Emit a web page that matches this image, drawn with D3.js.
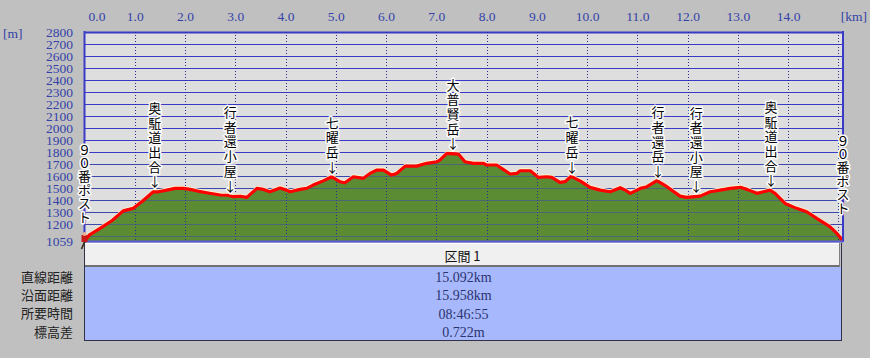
<!DOCTYPE html>
<html><head><meta charset="utf-8">
<script src="https://cdn.jsdelivr.net/npm/d3@7/dist/d3.min.js"></script>
<style>
html,body{margin:0;padding:0;background:#c0c0c0;}
svg{display:block;}
</style></head>
<body>
<svg id="chart" width="870" height="358"></svg>
<script>
// ---------- data ----------
const distanceKm = [0.00,0.10,0.31,0.55,0.77,0.97,1.15,1.37,1.47,1.64,1.80,1.97,2.10,2.25,2.43,2.70,2.85,2.96,3.10,3.23,3.43,3.56,3.69,3.89,4.02,4.09,4.29,4.42,4.55,4.75,4.92,5.08,5.18,5.35,5.55,5.68,5.82,5.95,6.11,6.21,6.38,6.61,6.81,7.01,7.07,7.21,7.44,7.57,7.74,7.94,8.00,8.20,8.30,8.47,8.60,8.67,8.87,9.03,9.20,9.30,9.46,9.56,9.68,9.86,10.06,10.26,10.46,10.66,10.76,10.86,11.06,11.19,11.39,11.59,11.85,11.98,12.25,12.45,12.65,12.85,13.05,13.18,13.38,13.51,13.64,13.74,13.94,14.17,14.37,14.57,14.83,14.97,15.092];
const elevationM = [1059,1110,1164,1230,1310,1331,1390,1469,1469,1483,1497,1497,1489,1475,1461,1442,1440,1428,1432,1422,1497,1489,1469,1500,1483,1469,1489,1497,1525,1560,1594,1553,1544,1594,1581,1622,1650,1650,1608,1622,1683,1683,1706,1719,1733,1789,1783,1719,1706,1706,1692,1692,1664,1617,1622,1644,1644,1589,1594,1589,1547,1553,1597,1560,1506,1483,1469,1503,1483,1456,1497,1511,1561,1511,1433,1422,1433,1469,1483,1497,1506,1489,1456,1469,1483,1456,1372,1331,1303,1247,1178,1122,1060];

const kmTicks = [0,1,2,3,4,5,6,7,8,9,10,11,12,13,14];
const kmGrid = [1,2,3,4,5,6,7,8,9,10,11,12,13,14,15];
const elevTicks = [1059,1200,1300,1400,1500,1600,1700,1800,1900,2000,2100,2200,2300,2400,2500,2600,2700,2800];
const elevGrid = [1100,1200,1300,1400,1500,1600,1700,1800,1900,2000,2100,2200,2300,2400,2500,2600,2700,2800];
const unitX = "[km]", unitY = "[m]";

const placeNames = ["９０番ポスト","奥駈道出合","行者還小屋","七曜岳","大普賢岳","七曜岳","行者還岳","行者還小屋","奥駈道出合","９０番ポスト"];
const placeKm = [0.0,1.40,2.90,4.93,7.33,9.70,11.41,12.17,13.66,15.092];
const placeArrow = [false,true,true,true,true,true,true,true,true,false];

const sectionTitle = "区間 1";
const summaryLabels = ["直線距離","沿面距離","所要時間","標高差"];
const summaryValues = ["15.092km","15.958km","08:46:55","0.722m"];

// ---------- layout ----------
const svg = d3.select("#chart");
const L = 84.5, R = 843, T = 32, B = 241;
const x = d3.scaleLinear().domain([0, 15.092]).range([L, R]);
const y = d3.scaleLinear().domain([1059, 2800]).range([B, T]);
const blue = "#3a3ac8", textBlue = "#3442a8";
const numFont = "'Liberation Serif', serif";
const jpFont = "'Noto Sans CJK JP', sans-serif";

// plot background
svg.append("rect").attr("x", L).attr("y", T).attr("width", R - L).attr("height", B - T).attr("fill", "#dedede");

// horizontal grid
svg.append("g").selectAll("line").data(elevGrid).join("line")
  .attr("x1", L).attr("x2", R)
  .attr("y1", d => Math.round(y(d)) + 0.5).attr("y2", d => Math.round(y(d)) + 0.5)
  .attr("stroke", blue).attr("stroke-width", d => d === 2800 ? 2 : 1);

// area
const pts = distanceKm.map((d, i) => [d, elevationM[i]]);
svg.append("path").datum(pts)
  .attr("d", d3.area().x(d => x(d[0])).y0(y(1059)).y1(d => y(d[1])))
  .attr("fill", "#5b8c34");

// vertical dotted grid
svg.append("g").selectAll("line").data(kmGrid).join("line")
  .attr("x1", d => Math.round(x(d)) + 0.5).attr("x2", d => Math.round(x(d)) + 0.5)
  .attr("y1", T).attr("y2", B)
  .attr("stroke", "#2a2a90").attr("stroke-width", 1).attr("stroke-dasharray", "1,2");

// grid lines seen through the green
svg.append("g").selectAll("line").data(elevGrid.filter(v => v < 1800)).join("line")
  .attr("x1", L).attr("x2", R)
  .attr("y1", d => Math.round(y(d)) + 0.5).attr("y2", d => Math.round(y(d)) + 0.5)
  .attr("stroke", "#4250a0").attr("stroke-width", 1).attr("opacity", 0.6);

// highlight + red line
svg.append("path").datum(pts)
  .attr("d", d3.line().x(d => x(d[0])).y(d => y(d[1]) - 1.9))
  .attr("fill", "none").attr("stroke", "#fff6c8").attr("stroke-width", 1.2);
svg.append("path").datum(pts)
  .attr("d", d3.line().x(d => x(d[0])).y(d => y(d[1])))
  .attr("fill", "none").attr("stroke", "#ff0000").attr("stroke-width", 3.2)
  .attr("stroke-linejoin", "round");

// borders
svg.append("line").attr("x1", L).attr("x2", L).attr("y1", T - 1).attr("y2", B + 1).attr("stroke", blue).attr("stroke-width", 2);
svg.append("line").attr("x1", R).attr("x2", R).attr("y1", T - 1).attr("y2", B + 1).attr("stroke", blue).attr("stroke-width", 2);
svg.append("line").attr("x1", L).attr("x2", R).attr("y1", B + 0.5).attr("y2", B + 0.5).attr("stroke", "#5a5ad8").attr("stroke-width", 2);

// top axis
const gx = svg.append("g").attr("transform", `translate(0,${T - 9})`)
  .call(d3.axisTop(x).tickValues(kmTicks).tickSize(0).tickFormat(d3.format(".1f")));
gx.select(".domain").remove();
gx.selectAll("text").attr("fill", textBlue).attr("font-family", numFont).attr("font-size", 13.5)
  .attr("dy", "0.1em")
  .attr("dx", d => d === 0 ? 12 : 0);
svg.append("text").attr("x", 867).attr("y", 21).attr("text-anchor", "end")
  .attr("font-family", numFont).attr("font-size", 13.5).attr("fill", textBlue).text(unitX);

// left axis
const gy = svg.append("g").attr("transform", `translate(76,0)`)
  .call(d3.axisLeft(y).tickValues(elevTicks).tickSize(0).tickFormat(d3.format("d")));
gy.select(".domain").remove();
gy.selectAll("text").attr("fill", textBlue).attr("font-family", numFont).attr("font-size", 13.5)
  .attr("textLength", 27).attr("lengthAdjust", "spacingAndGlyphs");
svg.append("text").attr("x", 3).attr("y", 38)
  .attr("font-family", numFont).attr("font-size", 13.5).attr("fill", textBlue).text(unitY);

// place labels: one character per line, stacked upward from the point
const elevAt = km => {
  const i = d3.bisector(d => d).left(distanceKm, km);
  if (i <= 0) return elevationM[0];
  if (i >= distanceKm.length) return elevationM[elevationM.length - 1];
  const t = (km - distanceKm[i - 1]) / (distanceKm[i] - distanceKm[i - 1]);
  return elevationM[i - 1] + t * (elevationM[i] - elevationM[i - 1]);
};
const endLift = [24, 0, 0, 0, 0, 0, 0, 0, 0, 33];
placeNames.forEach((name, i) => {
  const chars = Array.from(name);
  if (placeArrow[i]) chars.push("↓");
  const px = x(placeKm[i]);
  const bottomY = y(elevAt(placeKm[i])) - (placeArrow[i] ? 10 : endLift[i]);
  const step = placeArrow[i] ? 14.7 : 13.4;
  const g = svg.append("g");
  chars.forEach((c, k) => {
    const cy = bottomY - (chars.length - 1 - k) * step;
    g.append("text").attr("x", px).attr("y", cy).attr("dy", "0.36em")
      .attr("text-anchor", "middle").attr("font-family", jpFont).attr("font-size", 13)
      .attr("fill", "#000").attr("stroke", "#fff").attr("stroke-width", 3)
      .attr("paint-order", "stroke").attr("stroke-linejoin", "round").text(c);
  });
});

// hiker icon at start
const hx = x(0), hy = y(1059);
const icon = svg.append("g").attr("transform", `translate(${hx},${hy})`);
icon.append("path").attr("d", "M-3,8 L0,1 L3,8").attr("stroke", "#3a2a1a").attr("stroke-width", 1.6).attr("fill", "none");
icon.append("rect").attr("x", -3).attr("y", -6).attr("width", 6).attr("height", 7).attr("fill", "#c81818");
icon.append("circle").attr("cx", 0).attr("cy", -7).attr("r", 2).attr("fill", "#e8b090");

// section header box
const boxL = 84, boxR = 841;
svg.append("rect").attr("x", boxL).attr("y", 243).attr("width", boxR - boxL - 1).attr("height", 24).attr("fill", "#f0f0f0");
svg.append("line").attr("x1", boxL).attr("x2", boxR - 1).attr("y1", 243.5).attr("y2", 243.5).attr("stroke", "#ffffff");
svg.append("line").attr("x1", boxL).attr("x2", boxR - 1).attr("y1", 266).attr("y2", 266).attr("stroke", "#707070").attr("stroke-width", 2);
svg.append("line").attr("x1", boxR - 1.5).attr("x2", boxR - 1.5).attr("y1", 243).attr("y2", 267).attr("stroke", "#808080").attr("stroke-width", 1);
svg.append("text").attr("x", (boxL + boxR) / 2).attr("y", 256).attr("dy", "0.36em")
  .attr("text-anchor", "middle").attr("font-family", jpFont).attr("font-size", 13).attr("fill", "#111").text(sectionTitle);

// summary table
svg.append("rect").attr("x", boxL).attr("y", 267).attr("width", boxR - boxL).attr("height", 73).attr("fill", "#a8b8fc");
svg.append("line").attr("x1", boxL).attr("x2", boxR + 0.5).attr("y1", 340.5).attr("y2", 340.5).attr("stroke", "#303048");
svg.append("line").attr("x1", boxR + 0.5).attr("x2", boxR + 0.5).attr("y1", 243).attr("y2", 341).attr("stroke", "#303048");
svg.append("line").attr("x1", boxL + 0.5).attr("x2", boxL + 0.5).attr("y1", 243).attr("y2", 341).attr("stroke", "#303048");

const rowY = d3.scalePoint().domain(d3.range(summaryLabels.length)).range([277, 332]);
svg.append("g").selectAll("text").data(summaryLabels).join("text")
  .attr("x", 73).attr("y", (d, i) => rowY(i)).attr("dy", "0.36em").attr("text-anchor", "end")
  .attr("font-family", jpFont).attr("font-size", 13).attr("fill", "#222").text(d => d);
svg.append("g").selectAll("text").data(summaryValues).join("text")
  .attr("x", (boxL + boxR) / 2 + 1).attr("y", (d, i) => rowY(i)).attr("dy", "0.36em").attr("text-anchor", "middle")
  .attr("font-family", numFont).attr("font-size", 14).attr("fill", "#2a3470").text(d => d);
</script>
</body></html>
